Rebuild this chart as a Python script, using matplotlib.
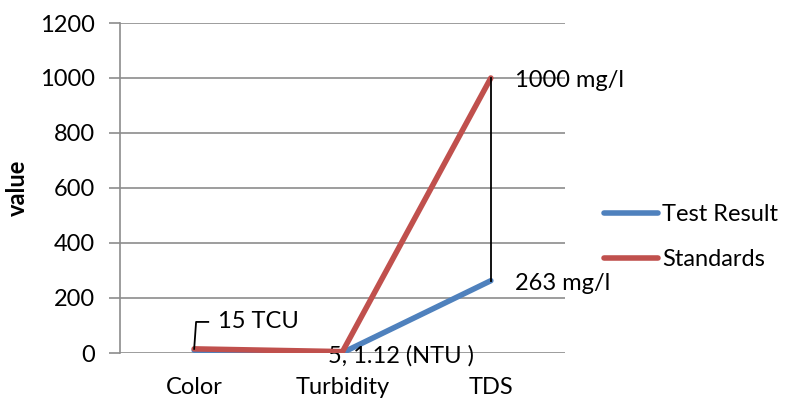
import matplotlib
matplotlib.use("Agg")
import matplotlib.pyplot as plt

categories = ["Color", "Turbidity", "TDS"]
test_result = [10, 1.12, 263]
standards = [15, 5, 1000]
yticks = [0, 200, 400, 600, 800, 1000, 1200]

plt.rcParams['font.family'] = ['Lato', 'DejaVu Sans']
FS = 17

fig = plt.figure(figsize=(7.86, 4.0), dpi=100)
ax = fig.add_axes([120/786, 1-353/400, 445/786, 330/400])

x = list(range(len(categories)))
blue = "#4f81bd"
red = "#c0504d"
ax.plot(x, test_result, color=blue, lw=4, solid_capstyle='round', label="Test Result", zorder=3)
ax.plot(x, standards, color=red, lw=4, solid_capstyle='round', label="Standards", zorder=4)
# high-low line
ax.plot([2, 2], [test_result[2], standards[2]], color="black", lw=1.3, zorder=5)

ax.set_xlim(-0.5, 2.5)
ax.set_ylim(0, 1200)
ax.set_yticks(yticks)
ax.set_xticks(x)
ax.set_xticklabels(categories, fontsize=FS)
ax.tick_params(axis='y', labelsize=FS, length=8, color="#8c8c8c", width=1.2, pad=10)
ax.tick_params(axis='x', length=0, pad=17)
ax.yaxis.grid(True, color="#8c8c8c", lw=1.2)
ax.set_axisbelow(True)
for s in ['top', 'right', 'bottom']:
    ax.spines[s].set_visible(False)
ax.spines['left'].set_color("#8c8c8c")
ax.spines['left'].set_linewidth(1.2)
ax.set_ylabel("value", fontsize=FS, fontweight='bold', labelpad=8)

# data labels
ax.text(2.16, standards[2] - 10, "1000 mg/l", fontsize=FS, va='center', ha='left')
ax.text(2.16, test_result[2] - 10, "263 mg/l", fontsize=FS, va='center', ha='left')
ax.text(0.9, -12, "5, 1.12 (NTU )", fontsize=FS, va='center', ha='left')
ax.text(0.16, 113, "15 TCU", fontsize=FS, va='center', ha='left')
ax.plot([0.0, 0.013, 0.095], [15, 113, 113], color="black", lw=1.3, clip_on=False, zorder=6)

leg = fig.legend(handles=ax.get_lines()[:2], loc='center left',
                 bbox_to_anchor=(604/786, 1-237/400), frameon=False,
                 fontsize=FS, handlelength=2.3, handletextpad=0.15, labelspacing=1.0,
                 borderaxespad=0, borderpad=0)

fig.savefig("out.png", dpi=100)
